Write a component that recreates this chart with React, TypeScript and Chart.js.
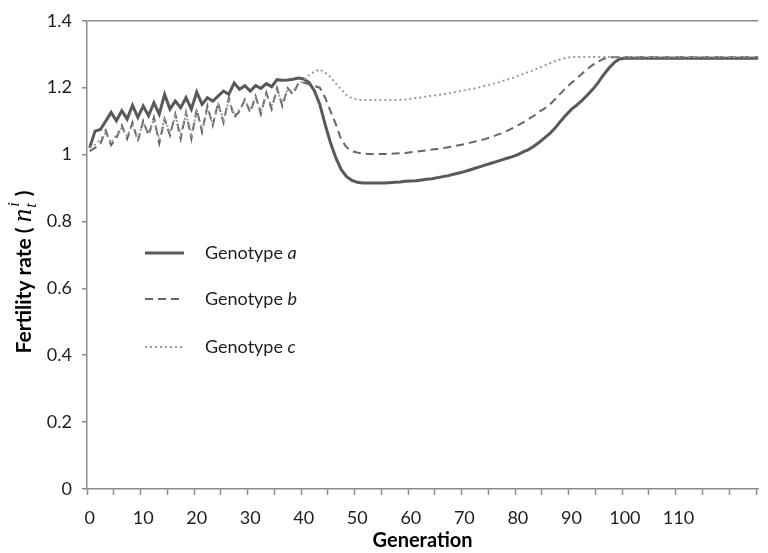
import React, { useEffect, useRef } from "react";
import { Chart, registerables } from "chart.js";

Chart.register(...registerables);

// ---------- data ----------
const generations: number[] = Array.from({ length: 126 }, (_, i) => i);

const genotypeA: number[] = [
  1.02, 1.07, 1.075, 1.1, 1.126, 1.101, 1.131, 1.106, 1.147, 1.111,
  1.145, 1.116, 1.155, 1.121, 1.18, 1.136, 1.16, 1.14, 1.17, 1.136,
  1.187, 1.15, 1.17, 1.16, 1.175, 1.19, 1.18, 1.214, 1.195, 1.206,
  1.19, 1.206, 1.198, 1.212, 1.203, 1.224, 1.222, 1.223, 1.225, 1.229,
  1.226, 1.215, 1.19, 1.15, 1.09, 1.035, 0.99, 0.955, 0.934, 0.923,
  0.917, 0.915, 0.915, 0.915, 0.915, 0.915, 0.916, 0.917, 0.918, 0.92,
  0.921, 0.922, 0.924, 0.926, 0.928, 0.931, 0.934, 0.937, 0.941, 0.945,
  0.949, 0.954, 0.959, 0.964, 0.969, 0.974, 0.979, 0.984, 0.989, 0.994,
  1.0, 1.008, 1.015, 1.025, 1.037, 1.05, 1.063, 1.08, 1.1, 1.118,
  1.135, 1.148, 1.162, 1.178, 1.195, 1.215, 1.238, 1.258, 1.275, 1.286,
  1.288, 1.288, 1.288, 1.288, 1.288, 1.288, 1.288, 1.288, 1.288, 1.288,
  1.288, 1.288, 1.288, 1.288, 1.288, 1.288, 1.288, 1.288, 1.288, 1.288,
  1.288, 1.288, 1.288, 1.288, 1.288, 1.288,
];

const genotypeB: number[] = [
  1.01, 1.02, 1.033, 1.072, 1.028, 1.05, 1.087, 1.047, 1.096, 1.04,
  1.101, 1.057, 1.111, 1.033, 1.106, 1.057, 1.121, 1.047, 1.126, 1.047,
  1.136, 1.067, 1.145, 1.087, 1.155, 1.096, 1.17, 1.111, 1.13, 1.165,
  1.126, 1.175, 1.121, 1.185, 1.136, 1.199, 1.145, 1.199, 1.18, 1.214,
  1.215, 1.21, 1.205, 1.2, 1.17, 1.13, 1.09, 1.045, 1.022, 1.01,
  1.006, 1.003, 1.002, 1.002, 1.002, 1.002, 1.002, 1.003, 1.004, 1.005,
  1.007, 1.009, 1.011, 1.013, 1.015, 1.017, 1.019, 1.022, 1.025, 1.028,
  1.031, 1.035, 1.039, 1.043, 1.047, 1.052, 1.058, 1.064, 1.071, 1.079,
  1.087, 1.096, 1.106, 1.116, 1.128, 1.138, 1.15, 1.166, 1.183, 1.2,
  1.214, 1.228, 1.242, 1.256, 1.268, 1.278, 1.286, 1.291, 1.291, 1.291,
  1.291, 1.291, 1.291, 1.291, 1.291, 1.291, 1.291, 1.291, 1.291, 1.291,
  1.291, 1.291, 1.291, 1.291, 1.291, 1.291, 1.291, 1.291, 1.291, 1.291,
  1.291, 1.291, 1.291, 1.291, 1.291, 1.291,
];

const genotypeC: number[] = [
  1.02, 1.03, 1.045, 1.065, 1.035, 1.06, 1.08, 1.055, 1.09, 1.045,
  1.095, 1.065, 1.105, 1.045, 1.11, 1.065, 1.115, 1.06, 1.12, 1.06,
  1.13, 1.075, 1.14, 1.09, 1.15, 1.105, 1.16, 1.12, 1.135, 1.16,
  1.135, 1.17, 1.13, 1.18, 1.145, 1.19, 1.155, 1.195, 1.19, 1.21,
  1.222, 1.238, 1.248, 1.255, 1.245, 1.232, 1.212, 1.195, 1.178, 1.168,
  1.165, 1.163, 1.163, 1.163, 1.163, 1.163, 1.163, 1.163, 1.164, 1.165,
  1.167, 1.169, 1.171, 1.174, 1.176, 1.178, 1.18, 1.183, 1.186, 1.189,
  1.192, 1.195, 1.198, 1.202, 1.206, 1.21, 1.214, 1.219, 1.224, 1.229,
  1.235, 1.241, 1.247, 1.253, 1.259, 1.266, 1.273, 1.28, 1.285, 1.289,
  1.292, 1.292, 1.292, 1.292, 1.292, 1.292, 1.292, 1.292, 1.292, 1.292,
  1.292, 1.292, 1.292, 1.292, 1.292, 1.292, 1.292, 1.292, 1.292, 1.292,
  1.292, 1.292, 1.292, 1.292, 1.292, 1.292, 1.292, 1.292, 1.292, 1.292,
  1.292, 1.292, 1.292, 1.292, 1.292, 1.292,
];

const seriesLabels = ["a", "b", "c"];
const yTickValues = [0, 0.2, 0.4, 0.6, 0.8, 1, 1.2, 1.4];
const yTickLabels = ["0", "0.2", "0.4", "0.6", "0.8", "1", "1.2", "1.4"];
const xTickLabels = ["0", "10", "20", "30", "40", "50", "60", "70", "80", "90", "100", "110"];
const xTickStep = 5;

const FONT = "Lato";
const AXIS_GRAY = "#8c8c8c";
const TEXT = "#1e1e1e";

const styles = [
  { color: "#595959", width: 3, dash: [] as number[] },
  { color: "#666666", width: 2, dash: [8, 5] },
  { color: "#9a9a9a", width: 2, dash: [2, 3] },
];

const overlayPlugin = {
  id: "overlay",
  afterDraw(chart: any) {
    const ctx: CanvasRenderingContext2D = chart.ctx;
    ctx.save();
    // legend
    const rows = [253, 299, 347];
    chart.data.datasets.forEach((ds: any, i: number) => {
      const st = styles[i];
      const y = rows[i];
      ctx.beginPath();
      ctx.strokeStyle = st.color;
      ctx.lineWidth = st.width;
      ctx.setLineDash(st.dash);
      ctx.moveTo(145, y);
      ctx.lineTo(184, y);
      ctx.stroke();
      ctx.setLineDash([]);
      ctx.fillStyle = TEXT;
      ctx.textBaseline = "middle";
      ctx.textAlign = "left";
      ctx.font = `18px ${FONT}`;
      const pre = "Genotype ";
      ctx.fillText(pre, 205, y);
      const w = ctx.measureText(pre).width;
      ctx.font = `italic 18px ${FONT}`;
      ctx.fillText(seriesLabels[i], 205 + w, y);
    });

    // y axis title (rotated)
    ctx.translate(24, 272);
    ctx.rotate(-Math.PI / 2);
    ctx.textBaseline = "alphabetic";
    ctx.textAlign = "left";
    const boldF = `bold 21px ${FONT}`;
    const mathF = `italic 27px "Liberation Serif"`;
    const smallF = `italic 16px "Liberation Serif"`;
    const segs = [
      { t: "Fertility rate ( ", f: boldF },
      { t: "n", f: mathF },
    ];
    let total = 0;
    segs.forEach((s) => {
      ctx.font = s.f;
      total += ctx.measureText(s.t).width;
    });
    ctx.font = smallF;
    const subW = ctx.measureText("t").width + 3;
    ctx.font = boldF;
    const closeW = ctx.measureText(" )").width;
    total += subW + closeW;
    let x = -total / 2;
    const base = 7;
    ctx.fillStyle = "#000";
    segs.forEach((s) => {
      ctx.font = s.f;
      ctx.fillText(s.t, x, base);
      x += ctx.measureText(s.t).width;
    });
    ctx.font = smallF;
    ctx.fillText("t", x + 1, base + 5);
    ctx.fillText("i", x + 2, base - 12);
    x += subW;
    ctx.font = boldF;
    ctx.fillText(" )", x, base);
    ctx.restore();
  },
};

export default function App() {
  const ref = useRef<HTMLCanvasElement | null>(null);
  useEffect(() => {
    if (!ref.current) return;
    const series = [genotypeA, genotypeB, genotypeC];
    const chart = new Chart(ref.current, {
      type: "line",
      data: {
        datasets: series.map((vals, i) => ({
          label: "Genotype " + seriesLabels[i],
          data: generations.map((g, k) => ({ x: g, y: vals[k] })),
          borderColor: styles[i].color,
          borderWidth: styles[i].width,
          borderDash: styles[i].dash,
          pointRadius: 0,
          tension: 0,
          fill: false,
          order: 3 - i,
        })),
      },
      options: {
        animation: false,
        responsive: true,
        maintainAspectRatio: false,
        layout: { padding: { top: 13, right: 0, left: 0, bottom: 0 } },
        plugins: { legend: { display: false }, tooltip: { enabled: false } },
        scales: {
          x: {
            type: "linear",
            min: -0.5,
            max: 124.9,
            afterFit: (s: any) => {
              s.height = 64;
            },
            afterBuildTicks: (axis: any) => {
              const t: any[] = [];
              for (let v = -0.5; v <= 124.9; v += xTickStep) t.push({ value: v });
              axis.ticks = t;
            },
            ticks: {
              autoSkip: false,
              maxRotation: 0,
              padding: 12,
              labelOffset: 2.7,
              color: TEXT,
              font: { family: FONT, size: 18 },
              callback: (v: any) => {
                const g = String(Math.round(Number(v) + 0.5));
                return xTickLabels.includes(g) ? g : "";
              },
            },
            grid: {
              drawOnChartArea: false,
              drawTicks: true,
              tickLength: 6,
              tickColor: AXIS_GRAY,
              tickWidth: 1.5,
            },
            border: { display: true, color: AXIS_GRAY, width: 1.5 },
            title: {
              display: true,
              text: "Generation",
              color: "#000",
              font: { family: FONT, size: 20, weight: "bold" },
              padding: { top: 0, bottom: 0 },
            },
          },
          y: {
            min: 0,
            max: 1.4,
            afterFit: (s: any) => {
              s.width = 87;
            },
            afterBuildTicks: (axis: any) => {
              axis.ticks = yTickValues.map((v) => ({ value: v }));
            },
            ticks: {
              padding: 10,
              color: TEXT,
              font: { family: FONT, size: 18 },
              callback: (v: any) => {
                const idx = yTickValues.findIndex((t) => Math.abs(t - Number(v)) < 1e-6);
                return idx >= 0 ? yTickLabels[idx] : "";
              },
            },
            grid: {
              color: (c: any) =>
                c.tick && Math.abs(c.tick.value - 1.4) < 1e-6 ? AXIS_GRAY : "rgba(0,0,0,0)",
              lineWidth: 1.5,
              drawTicks: true,
              tickLength: 5,
              tickColor: AXIS_GRAY,
              tickWidth: 1.5,
            },
            border: { display: true, color: AXIS_GRAY, width: 1.5 },
          },
        },
      },
      plugins: [overlayPlugin],
    } as any);
    return () => chart.destroy();
  }, []);
  return (
    <div style={{ position: "absolute", left: 0, top: 0, width: 768, height: 553, background: "#fff" }}>
      <canvas ref={ref} />
    </div>
  );
}
